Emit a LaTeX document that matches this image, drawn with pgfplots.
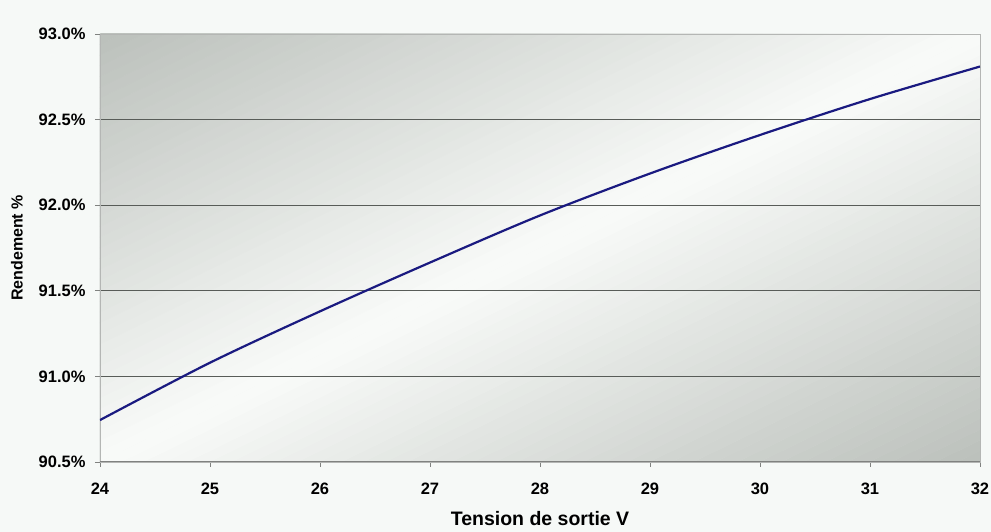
\documentclass[border=0pt]{standalone}
\usepackage{pgfplots}
\pgfplotsset{compat=1.18}
\usepackage{fontspec}
\setmainfont{Liberation Sans}

\definecolor{pagebg}{RGB}{246,249,247}
\definecolor{shadedark}{RGB}{187,192,187}
\definecolor{shadelight}{RGB}{249,251,249}
\definecolor{curveblue}{RGB}{26,26,128}
\definecolor{gridgray}{RGB}{88,92,88}
\definecolor{axisgray}{RGB}{128,130,128}
\definecolor{framegray}{RGB}{180,182,180}

\begin{document}
\begin{tikzpicture}[x=1pt,y=1pt]
  % page background and bounding box
  \fill[pagebg] (-100,-70) rectangle (891,462);
  \path[use as bounding box] (-100,-70) rectangle (891,462);
  % plot area background (880 x 428): grey corners, white band along the
  % rising diagonal, built from thin diagonal strips
  \begin{scope}[xscale=8.8, yscale=4.28]
    \clip (0,0) rectangle (100,100);
    \foreach \i in {0,...,79} {
      \pgfmathsetmacro\lo{-100+\i*2.5}
      \pgfmathsetmacro\hi{\lo+2.6}
      \pgfmathsetmacro\p{100*(1-abs(-1+(\i+0.5)*0.025))}
      \fill[shadelight!\p!shadedark]
        (-5,{-5+\lo}) -- (105,{105+\lo}) -- (105,{105+\hi}) -- (-5,{-5+\hi}) -- cycle;
    }
  \end{scope}

  \begin{axis}[
    at={(0,0)}, anchor=south west,
    scale only axis, width=880pt, height=428pt,
    xmin=24, xmax=32, ymin=90.5, ymax=93.0,
    xtick={24,...,32},
    ytick={90.5,91,91.5,92,92.5,93},
    minor ytick={91,91.5,92,92.5},
    yminorgrids,
    minor tick length=0pt,
    minor grid style={gridgray, line width=1.2pt},
    tick align=outside,
    major tick length=5pt,
    xtick pos=bottom, ytick pos=left,
    tick style={axisgray, line width=0.9pt},
    axis line style={framegray, line width=0.8pt},
    /pgf/number format/assume math mode=true,
    ticklabel style={font=\fontsize{16.5}{19}\selectfont\bfseries},
    yticklabel={\pgfmathprintnumber[fixed,fixed zerofill,precision=1]{\tick}\%},
    xticklabel style={yshift=-12pt},
    yticklabel style={xshift=-6pt},
    xlabel={Tension de sortie V},
    ylabel={Rendement \%},
    xlabel style={font=\fontsize{19.5}{22}\selectfont\bfseries,
      at={(axis description cs:0.5,-0.133)}, anchor=center},
    ylabel style={font=\fontsize{16}{19}\selectfont\bfseries,
      at={(axis description cs:-0.0943,0.5)}, anchor=center},
  ]
    \addplot[curveblue, line width=2.2pt, smooth] coordinates {
      (24,90.745) (25,91.08) (26,91.38) (27,91.665) (28,91.94)
      (29,92.185) (30,92.41) (31,92.62) (32,92.81)
    };
    % darker left and bottom axis lines
    \draw[axisgray, line width=1pt] (rel axis cs:0,1) -- (rel axis cs:0,0) -- (rel axis cs:1,0);
  \end{axis}
\end{tikzpicture}
\end{document}
